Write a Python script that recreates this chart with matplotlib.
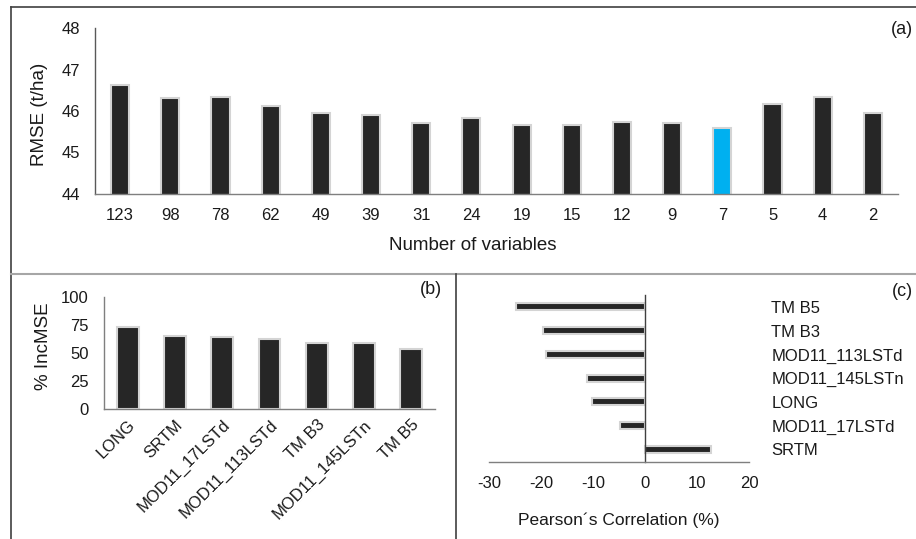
import matplotlib
matplotlib.use("Agg")
import matplotlib.pyplot as plt
from matplotlib.lines import Line2D

plt.rcParams['font.family'] = ['Liberation Sans', 'DejaVu Sans']
plt.rcParams['font.size'] = 12
plt.rcParams['axes.unicode_minus'] = False

# (a) RMSE by number of variables
n_vars = ["123", "98", "78", "62", "49", "39", "31", "24", "19", "15", "12", "9", "7", "5", "4", "2"]
rmse = [46.63, 46.31, 46.33, 46.13, 45.96, 45.91, 45.72, 45.84, 45.67, 45.67, 45.73, 45.71, 45.60, 46.18, 46.33, 45.96]
best_n = "7"

# (b) variable importance
imp_vars = ["LONG", "SRTM", "MOD11_17LSTd", "MOD11_113LSTd", "TM B3", "MOD11_145LSTn", "TM B5"]
inc_mse = [73, 65, 64, 62.5, 59, 59, 54]

# (c) Pearson correlation (bottom to top)
corr_vars = ["SRTM", "MOD11_17LSTd", "LONG", "MOD11_145LSTn", "MOD11_113LSTd", "TM B3", "TM B5"]
corr_vals = [12.7, -4.9, -10.2, -11.2, -19.0, -19.6, -24.8]

W, H = 916, 539
fig = plt.figure(figsize=(W / 100, H / 100), dpi=100)

def frac(l, t, r, b):
    return [l / W, 1 - b / H, (r - l) / W, (b - t) / H]

BAR = "#262626"
GLOW = "#d4d4d4"
TXT = "#1a1a1a"
SPINE = "#7f7f7f"
TICK_FS = 12
LAB_FS = 13.5

def style(ax):
    for s in ["top", "right"]:
        ax.spines[s].set_visible(False)
    for s in ["left", "bottom"]:
        ax.spines[s].set_color(SPINE)
        ax.spines[s].set_linewidth(1.0)
    ax.tick_params(length=0, colors=TXT, labelsize=TICK_FS)

# ---- panel (a)
ax1 = fig.add_axes(frac(95, 28, 898, 194))
style(ax1)
ax1.spines["left"].set_color("#595959")
x1 = list(range(len(n_vars)))
cols = ["#00b0f0" if n == best_n else BAR for n in n_vars]
ax1.bar(x1, rmse, width=0.36, color=cols, edgecolor=GLOW, linewidth=1.5)
ax1.set_ylim(44, 48)
ax1.set_yticks([44, 45, 46, 47, 48])
ax1.set_xlim(-0.5, len(n_vars) - 0.5)
ax1.set_xticks(x1)
ax1.set_xticklabels(n_vars)
ax1.tick_params(axis="x", pad=10)
ax1.tick_params(axis="y", pad=11)
fig.text(40 / W, 1 - 114 / H, "RMSE (t/ha)", rotation=90, ha="center", va="center", fontsize=LAB_FS, color=TXT)
fig.text(473 / W, 1 - 246 / H, "Number of variables", ha="center", va="center", fontsize=LAB_FS, color=TXT)
fig.text(902 / W, 1 - 29 / H, "(a)", ha="center", va="center", fontsize=13, color=TXT)

# ---- panel (b)
ax2 = fig.add_axes(frac(104, 297, 435, 409))
style(ax2)
x2 = list(range(len(imp_vars)))
ax2.bar(x2, inc_mse, width=0.46, color=BAR, edgecolor=GLOW, linewidth=1.5)
ax2.set_ylim(0, 100)
ax2.set_yticks([0, 25, 50, 75, 100])
ax2.set_xlim(-0.5, len(imp_vars) - 0.5)
ax2.set_xticks(x2)
ax2.set_xticklabels(imp_vars, rotation=45, ha="right", rotation_mode="anchor")
ax2.tick_params(axis="x", pad=6)
ax2.tick_params(axis="y", pad=11)
fig.text(43 / W, 1 - 346 / H, "% IncMSE", rotation=90, ha="center", va="center", fontsize=LAB_FS, color=TXT)
fig.text(431 / W, 1 - 289 / H, "(b)", ha="center", va="center", fontsize=13, color=TXT)

# ---- panel (c)
ax3 = fig.add_axes(frac(489, 295, 749, 462))
style(ax3)
ax3.spines["left"].set_position(("data", 0))
ax3.spines["left"].set_color("#404040")
y3 = list(range(len(corr_vars)))
ax3.barh(y3, corr_vals, height=0.3, color=BAR, edgecolor=GLOW, linewidth=1.5)
ax3.set_xlim(-30, 20)
ax3.set_xticks([-30, -20, -10, 0, 10, 20])
ax3.set_ylim(-0.53, len(corr_vars) - 0.5)
ax3.yaxis.tick_right()
ax3.set_yticks(y3)
ax3.set_yticklabels(corr_vars)
ax3.tick_params(axis="y", pad=16)
ax3.tick_params(axis="x", pad=10)
fig.text(619 / W, 1 - 520 / H, "Pearson´s Correlation (%)", ha="center", va="center", fontsize=12.5, color=TXT)
fig.text(902 / W, 1 - 291 / H, "(c)", ha="center", va="center", fontsize=13, color=TXT)

# ---- panel frames
fig.add_artist(Line2D([10.5 / W, 1.0], [1 - 7 / H, 1 - 7 / H], color="#404040", lw=1.2))
fig.add_artist(Line2D([10.5 / W, 10.5 / W], [1 - 7 / H, 0.0], color="#404040", lw=1.2))
fig.add_artist(Line2D([10.5 / W, 1.0], [1 - 274 / H, 1 - 274 / H], color="#a6a6a6", lw=1.5))
fig.add_artist(Line2D([456 / W, 456 / W], [1 - 274 / H, 0.0], color="#404040", lw=1.2))

fig.savefig("out.png", dpi=100, facecolor="white")
